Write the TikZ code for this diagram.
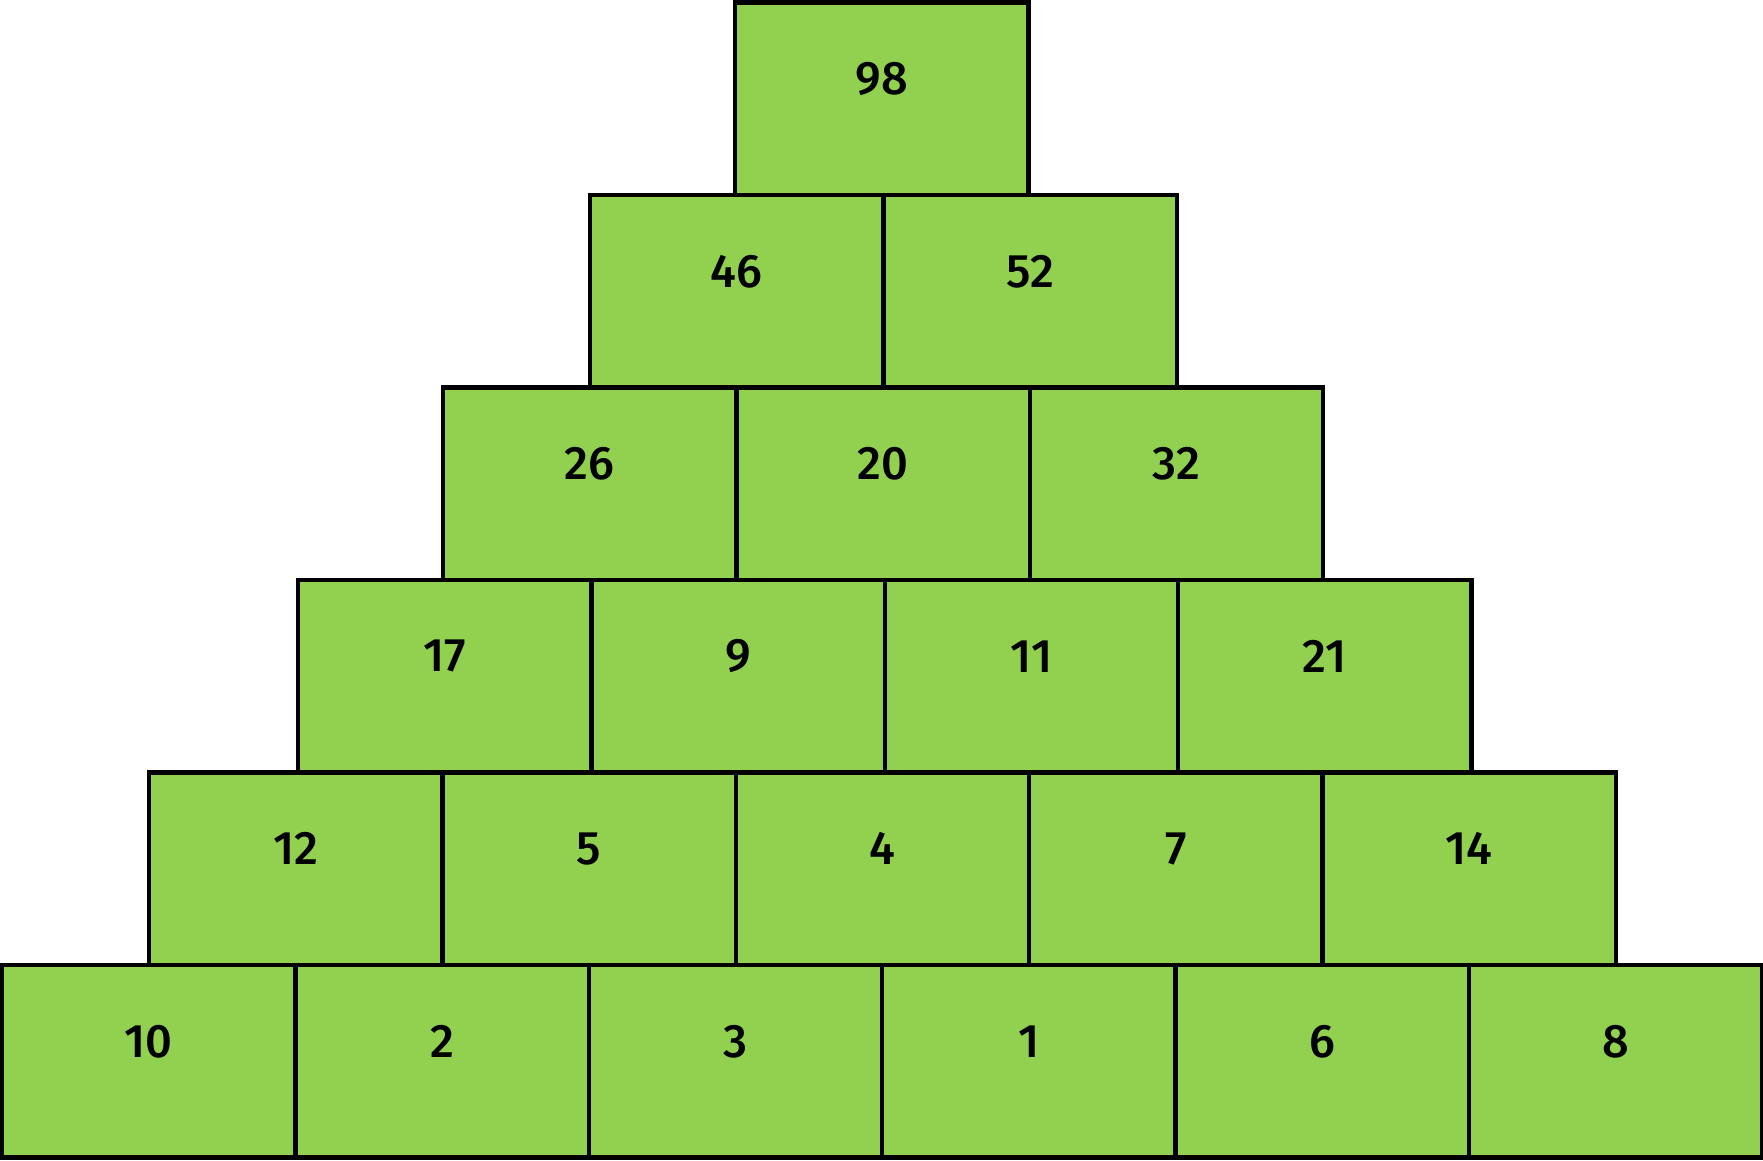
\documentclass[tikz,border=0pt]{standalone}
\usepackage{fontspec}
\setmainfont{Fira Sans}[UprightFont=* Medium]
\definecolor{boxgreen}{RGB}{146,208,80}
\begin{document}
\begin{tikzpicture}[x=1pt,y=-1pt,
  cell/.style={draw=black,line width=4.5pt,fill=boxgreen,rectangle,
    minimum width=293.4pt,minimum height=192.5pt,inner sep=0pt,outer sep=0pt},
  num/.style={font=\fontsize{47}{56}\selectfont}]
\useasboundingbox (0,0) rectangle (1763,1160);
\foreach \r/\x/\vals in {0/735/{98},1/590/{46,52},2/443/{26,20,32},3/298/{17,9,11,21},4/149/{12,5,4,7,14},5/2/{10,2,3,1,6,8}}{
  \foreach \v [count=\i from 0] in \vals {
    \pgfmathsetmacro{\cx}{\x+\i*293.4+146.7}
    \pgfmathsetmacro{\cy}{2.5+\r*192.5+96.25}
    \node[cell] (b-\r-\i) at (\cx,\cy) {};
    \node[num] (t-\r-\i) at ([yshift=20pt]b-\r-\i.center) {\v};
  }
}
\end{tikzpicture}
\end{document}
